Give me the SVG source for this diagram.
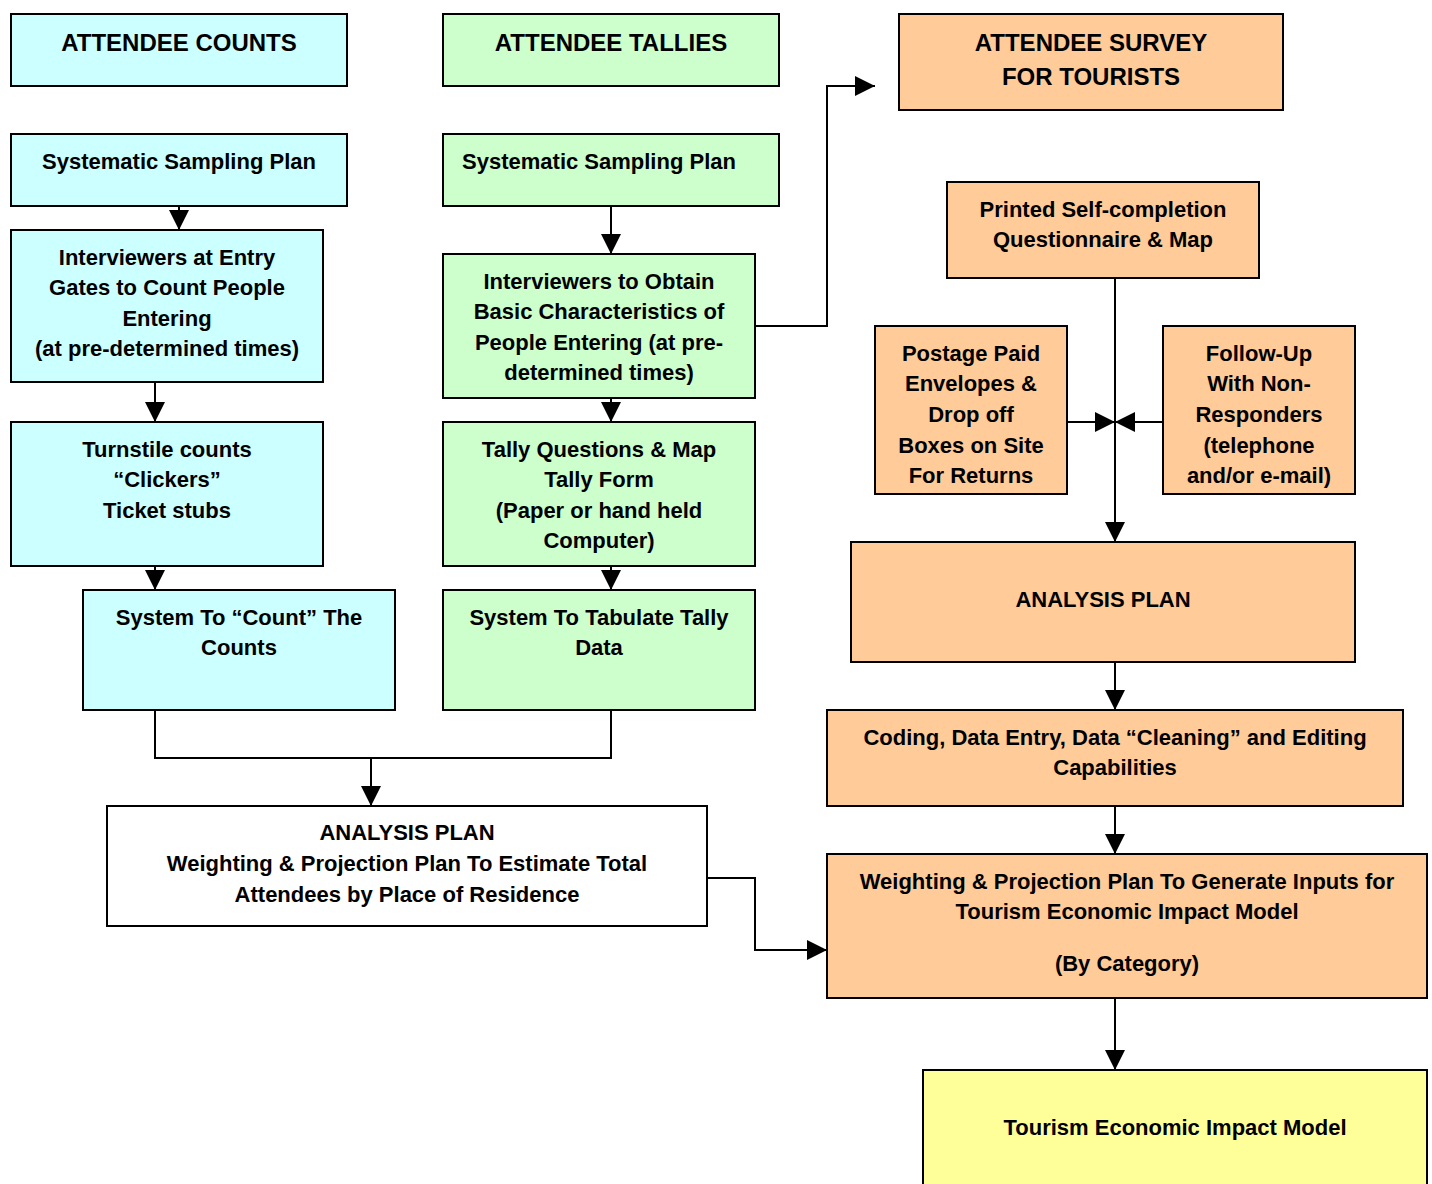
<svg xmlns="http://www.w3.org/2000/svg" width="1432" height="1184" viewBox="0 0 1432 1184">
<style>
rect{stroke:#000;stroke-width:2}
rect.bg{stroke:none;fill:#fff}
.c{fill:#CCFFFF}.g{fill:#CCFFCC}.o{fill:#FFCC99}.w{fill:#FFFFFF}.y{fill:#FFFF99}
text{font-family:"Liberation Sans Narrow","Arial Narrow","Liberation Sans",sans-serif;font-weight:bold;font-size:22px;text-anchor:middle;fill:#000}
.h{font-size:24px}
#connectors path{fill:none;stroke:#000;stroke-width:2}
</style>
<defs>
<marker id="b" viewBox="0 0 20 20" refX="20" refY="10" markerWidth="20" markerHeight="20" markerUnits="userSpaceOnUse" orient="auto">
<path d="M0,0 L20,10 L0,20 Z" fill="#000"/>
</marker>
</defs>
<rect class="bg" width="1432" height="1184"/>
<g id="connectors">
<path d="M179,206 V230" marker-end="url(#b)"/>
<path d="M155,374 V422" marker-end="url(#b)"/>
<path d="M155,566 V590" marker-end="url(#b)"/>
<path d="M611,206 V254" marker-end="url(#b)"/>
<path d="M611,398 V422" marker-end="url(#b)"/>
<path d="M611,566 V590" marker-end="url(#b)"/>
<path d="M755,326 H827 V86 H875" marker-end="url(#b)"/>
<path d="M155,710 V758 H611 V710"/>
<path d="M371,758 V806" marker-end="url(#b)"/>
<path d="M707,878 H755 V950 H827" marker-end="url(#b)"/>
<path d="M1115,278 V542" marker-end="url(#b)"/>
<path d="M1067,422 H1115" marker-end="url(#b)"/>
<path d="M1163,422 H1115" marker-end="url(#b)"/>
<path d="M1115,662 V710" marker-end="url(#b)"/>
<path d="M1115,806 V854" marker-end="url(#b)"/>
<path d="M1115,998 V1070" marker-end="url(#b)"/>
</g>
<g id="counts-header"><rect class="c" x="11" y="14" width="336" height="72"/><text class="h" x="179" y="51">ATTENDEE COUNTS</text></g>
<g id="tallies-header"><rect class="g" x="443" y="14" width="336" height="72"/><text class="h" x="611" y="51">ATTENDEE TALLIES</text></g>
<g id="survey-header"><rect class="o" x="899" y="14" width="384" height="96"/><text class="h" x="1091" y="51">ATTENDEE SURVEY</text><text class="h" x="1091" y="85">FOR TOURISTS</text></g>
<g id="counts-sampling"><rect class="c" x="11" y="134" width="336" height="72"/><text x="179" y="169">Systematic Sampling Plan</text></g>
<g id="counts-interviewers"><rect class="c" x="11" y="230" width="312" height="152"/><text x="167" y="265">Interviewers at Entry</text><text x="167" y="295">Gates to Count People</text><text x="167" y="326">Entering</text><text x="167" y="356">(at pre-determined times)</text></g>
<g id="turnstile"><rect class="c" x="11" y="422" width="312" height="144"/><text x="167" y="457">Turnstile counts</text><text x="167" y="487">“Clickers”</text><text x="167" y="518">Ticket stubs</text></g>
<g id="count-system"><rect class="c" x="83" y="590" width="312" height="120"/><text x="239" y="625">System To “Count” The</text><text x="239" y="655">Counts</text></g>
<g id="tallies-sampling"><rect class="g" x="443" y="134" width="336" height="72"/><text x="599" y="169">Systematic Sampling Plan</text></g>
<g id="tallies-interviewers"><rect class="g" x="443" y="254" width="312" height="144"/><text x="599" y="289">Interviewers to Obtain</text><text x="599" y="319">Basic Characteristics of</text><text x="599" y="350">People Entering (at pre-</text><text x="599" y="380">determined times)</text></g>
<g id="tally-questions"><rect class="g" x="443" y="422" width="312" height="144"/><text x="599" y="457">Tally Questions &amp; Map</text><text x="599" y="487">Tally Form</text><text x="599" y="518">(Paper or hand held</text><text x="599" y="548">Computer)</text></g>
<g id="tabulate-system"><rect class="g" x="443" y="590" width="312" height="120"/><text x="599" y="625">System To Tabulate Tally</text><text x="599" y="655">Data</text></g>
<g id="analysis-plan-left"><rect class="w" x="107" y="806" width="600" height="120"/><text x="407" y="840">ANALYSIS PLAN</text><text x="407" y="871">Weighting &amp; Projection Plan To Estimate Total</text><text x="407" y="902">Attendees by Place of Residence</text></g>
<g id="questionnaire"><rect class="o" x="947" y="182" width="312" height="96"/><text x="1103" y="217">Printed Self-completion</text><text x="1103" y="247">Questionnaire &amp; Map</text></g>
<g id="postage"><rect class="o" x="875" y="326" width="192" height="168"/><text x="971" y="361">Postage Paid</text><text x="971" y="391">Envelopes &amp;</text><text x="971" y="422">Drop off</text><text x="971" y="453">Boxes on Site</text><text x="971" y="483">For Returns</text></g>
<g id="follow-up"><rect class="o" x="1163" y="326" width="192" height="168"/><text x="1259" y="361">Follow-Up</text><text x="1259" y="391">With Non-</text><text x="1259" y="422">Responders</text><text x="1259" y="453">(telephone</text><text x="1259" y="483">and/or e-mail)</text></g>
<g id="analysis-plan-right"><rect class="o" x="851" y="542" width="504" height="120"/><text x="1103" y="607">ANALYSIS PLAN</text></g>
<g id="coding"><rect class="o" x="827" y="710" width="576" height="96"/><text x="1115" y="745">Coding, Data Entry, Data “Cleaning” and Editing</text><text x="1115" y="775">Capabilities</text></g>
<g id="weighting"><rect class="o" x="827" y="854" width="600" height="144"/><text x="1127" y="889">Weighting &amp; Projection Plan To Generate Inputs for</text><text x="1127" y="919">Tourism Economic Impact Model</text><text x="1127" y="971">(By Category)</text></g>
<g id="impact-model"><rect class="y" x="923" y="1070" width="504" height="130"/><text x="1175" y="1135">Tourism Economic Impact Model</text></g>
</svg>
